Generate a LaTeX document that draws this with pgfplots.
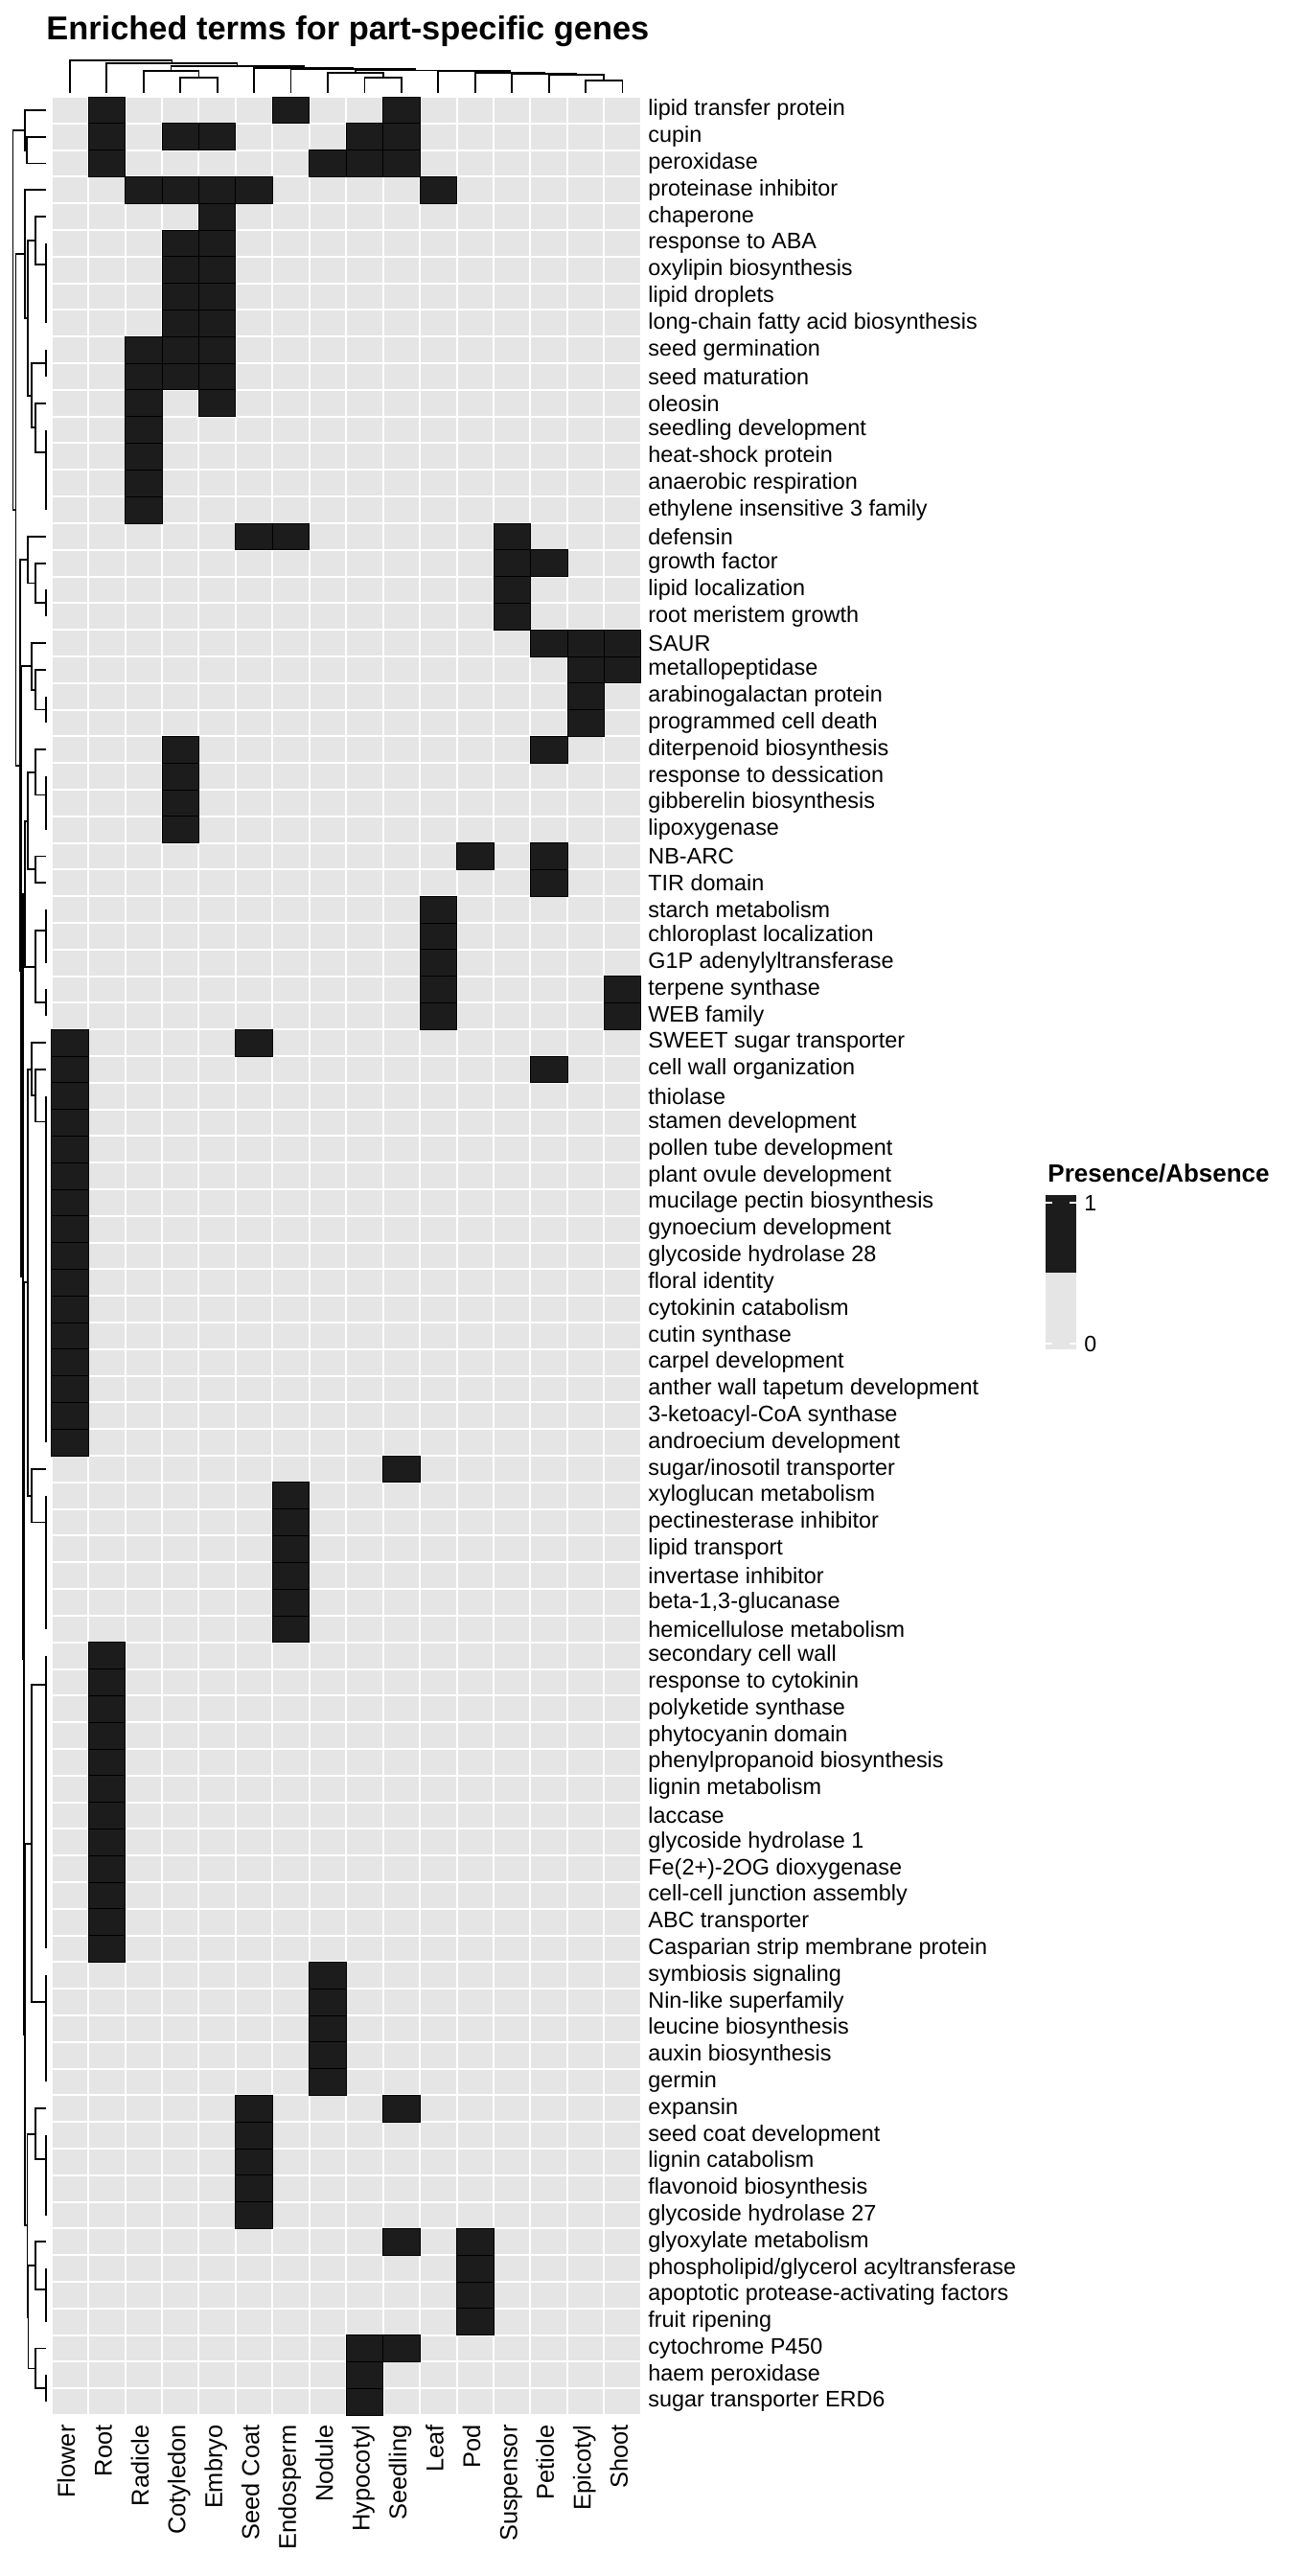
\documentclass[border=0pt]{standalone}
\usepackage{fontspec}
\setmainfont{Liberation Sans}
\usepackage{pgfplots}
\pgfplotsset{compat=1.18}
\definecolor{cellgray}{RGB}{229,229,229}
\definecolor{cellblack}{RGB}{28,28,28}
\pgfplotsset{
  dendro/.style={hide axis, scale only axis, clip=false},
  br/.style={black, line width=0.9pt, no marks},
}
\begin{document}
\begin{tikzpicture}
\useasboundingbox (0,0) rectangle (672pt,-1344pt);

% title
\node[anchor=base west, inner sep=0pt, font=\bfseries\fontsize{17.2}{20}\selectfont]
  at (24pt,-20.6pt) {Enriched terms for part-specific genes};

% heatmap
\begin{axis}[
  at={(26.8pt,-50.5pt)}, anchor=north west,
  scale only axis, width=307.6pt, height=1209.5pt,
  xmin=0.5, xmax=16.5, ymin=0.5, ymax=87.5, y dir=reverse,
  axis background/.style={fill=cellgray},
  axis line style={draw=none},
  tick style={draw=none}, major tick length=0pt, minor tick length=0pt,
  minor xtick={0.5,1.5,...,16.5}, minor ytick={0.5,1.5,...,87.5},
  grid=minor, minor grid style={white, line width=1pt},
  axis on top,
  xtick={1,...,16},
  xticklabels={Flower,Root,Radicle,Cotyledon,Embryo,Seed Coat,Endosperm,Nodule,Hypocotyl,Seedling,Leaf,Pod,Suspensor,Petiole,Epicotyl,Shoot},
  xticklabel style={rotate=90, anchor=mid east, inner sep=0pt, font=\fontsize{12.7}{13}\selectfont},
  xticklabel shift=5pt,
  ytick={1,...,87},
  yticklabels={lipid transfer protein,cupin,peroxidase,proteinase inhibitor,chaperone,response to ABA,oxylipin biosynthesis,lipid droplets,long-chain fatty acid biosynthesis,seed germination,seed maturation,oleosin,seedling development,heat-shock protein,anaerobic respiration,ethylene insensitive 3 family,defensin,growth factor,lipid localization,root meristem growth,SAUR,metallopeptidase,arabinogalactan protein,programmed cell death,diterpenoid biosynthesis,response to dessication,gibberelin biosynthesis,lipoxygenase,NB-ARC,TIR domain,starch metabolism,chloroplast localization,G1P adenylyltransferase,terpene synthase,WEB family,SWEET sugar transporter,cell wall organization,thiolase,stamen development,pollen tube development,plant ovule development,mucilage pectin biosynthesis,gynoecium development,glycoside hydrolase 28,floral identity,cytokinin catabolism,cutin synthase,carpel development,anther wall tapetum development,3-ketoacyl-CoA synthase,androecium development,sugar/inosotil transporter,xyloglucan metabolism,pectinesterase inhibitor,lipid transport,invertase inhibitor,{beta-1,3-glucanase},hemicellulose metabolism,secondary cell wall,response to cytokinin,polyketide synthase,phytocyanin domain,phenylpropanoid biosynthesis,lignin metabolism,laccase,glycoside hydrolase 1,Fe(2+)-2OG dioxygenase,cell-cell junction assembly,ABC transporter,Casparian strip membrane protein,symbiosis signaling,Nin-like superfamily,leucine biosynthesis,auxin biosynthesis,germin,expansin,seed coat development,lignin catabolism,flavonoid biosynthesis,glycoside hydrolase 27,glyoxylate metabolism,phospholipid/glycerol acyltransferase,apoptotic protease-activating factors,fruit ripening,cytochrome P450,haem peroxidase,sugar transporter ERD6},
  yticklabel pos=right,
  yticklabel style={anchor=west, inner sep=0pt, font=\fontsize{11.7}{12}\selectfont},
  yticklabel shift=3.6pt,
]
\addplot[only marks, mark=square*, mark size=6.95pt,
  mark options={xscale=1.383, draw=none, fill=cellblack}]
coordinates {
 (2,1) (7,1) (10,1)
 (2,2) (4,2) (5,2) (9,2) (10,2)
 (2,3) (8,3) (9,3) (10,3)
 (3,4) (4,4) (5,4) (6,4) (11,4)
 (5,5)
 (4,6) (5,6) (4,7) (5,7) (4,8) (5,8) (4,9) (5,9)
 (3,10) (4,10) (5,10) (3,11) (4,11) (5,11)
 (3,12) (5,12)
 (3,13) (3,14) (3,15) (3,16)
 (6,17) (7,17) (13,17)
 (13,18) (14,18)
 (13,19) (13,20)
 (14,21) (15,21) (16,21)
 (15,22) (16,22)
 (15,23) (15,24)
 (4,25) (14,25)
 (4,26) (4,27) (4,28)
 (12,29) (14,29)
 (14,30)
 (11,31) (11,32) (11,33)
 (11,34) (16,34) (11,35) (16,35)
 (1,36) (6,36)
 (1,37) (14,37)
 (1,38) (1,39) (1,40) (1,41) (1,42) (1,43) (1,44) (1,45) (1,46) (1,47) (1,48) (1,49) (1,50) (1,51)
 (10,52)
 (7,53) (7,54) (7,55) (7,56) (7,57) (7,58)
 (2,59) (2,60) (2,61) (2,62) (2,63) (2,64) (2,65) (2,66) (2,67) (2,68) (2,69) (2,70)
 (8,71) (8,72) (8,73) (8,74) (8,75)
 (6,76) (10,76)
 (6,77) (6,78) (6,79) (6,80)
 (10,81) (12,81)
 (12,82) (12,83) (12,84)
 (9,85) (10,85)
 (9,86) (9,87)
};
\end{axis}

% column dendrogram
\begin{axis}[dendro,
  at={(26.8pt,-30pt)}, anchor=north west,
  width=307.6pt, height=20.5pt,
  xmin=0.5, xmax=16.5, ymin=60, ymax=101, y dir=reverse]
\addplot[br] coordinates {(4,97)(4,81.3)(5,81.3)(5,97)};
\addplot[br] coordinates {(3,97)(3,73.7)(4.5,73.7)(4.5,81.3)};
\addplot[br] coordinates {(9,97)(9,81.3)(10,81.3)(10,97)};
\addplot[br] coordinates {(8,97)(8,76.3)(9.5,76.3)(9.5,81.3)};
\addplot[br] coordinates {(15,97)(15,83.7)(16,83.7)(16,97)};
\addplot[br] coordinates {(14,97)(14,78)(15.5,78)(15.5,83.7)};
\addplot[br] coordinates {(13,97)(13,77)(14.75,77)(14.75,78)};
\addplot[br] coordinates {(12,97)(12,75.7)(13.875,75.7)(13.875,77)};
\addplot[br] coordinates {(11,97)(11,74.3)(12.9375,74.3)(12.9375,75.7)};
\addplot[br] coordinates {(8.75,76.3)(8.75,73.5)(11.969,73.5)(11.969,74.3)};
\addplot[br] coordinates {(7,97)(7,72)(10.359,72)(10.359,73.5)};
\addplot[br] coordinates {(6,97)(6,70.7)(8.680,70.7)(8.680,72)};
\addplot[br] coordinates {(3.75,73.7)(3.75,68.7)(7.340,68.7)(7.340,70.7)};
\addplot[br] coordinates {(2,97)(2,66)(5.545,66)(5.545,68.7)};
\addplot[br] coordinates {(1,97)(1,63)(3.772,63)(3.772,66)};
\end{axis}

% row dendrogram (x in px from the left edge, leaves at 48.2)
\begin{axis}[dendro,
  at={(0pt,-50.5pt)}, anchor=north west,
  width=26.8pt, height=1209.5pt,
  xmin=0, xmax=53.6, ymin=0.5, ymax=87.5, y dir=reverse]
% identical leaves
\addplot[br] coordinates {(48.2,6)(48.2,9)};
\addplot[br] coordinates {(48.2,10)(48.2,11)};
\addplot[br] coordinates {(48.2,13)(48.2,16)};
\addplot[br] coordinates {(48.2,19)(48.2,20)};
\addplot[br] coordinates {(48.2,23)(48.2,24)};
\addplot[br] coordinates {(48.2,26)(48.2,28)};
\addplot[br] coordinates {(48.2,31)(48.2,33)};
\addplot[br] coordinates {(48.2,34)(48.2,35)};
\addplot[br] coordinates {(48.2,38)(48.2,51)};
\addplot[br] coordinates {(48.2,53)(48.2,58)};
\addplot[br] coordinates {(48.2,59)(48.2,70)};
\addplot[br] coordinates {(48.2,71)(48.2,75)};
\addplot[br] coordinates {(48.2,77)(48.2,80)};
\addplot[br] coordinates {(48.2,82)(48.2,84)};
\addplot[br] coordinates {(48.2,86)(48.2,87)};
% merges
\addplot[br] coordinates {(48.2,2)(28.1,2)(28.1,3)(48.2,3)};
\addplot[br] coordinates {(48.2,1)(25.9,1)(25.9,2.5)(28.1,2.5)};
\addplot[br] coordinates {(48.2,5)(37,5)(37,6.8)(48.2,6.8)};
\addplot[br] coordinates {(48.2,12)(37,12)(37,13.83)(48.2,13.83)};
\addplot[br] coordinates {(48.2,10.5)(32.6,10.5)(32.6,12.915)(37,12.915)};
\addplot[br] coordinates {(37,5.9)(29,5.9)(29,11.71)(32.6,11.71)};
\addplot[br] coordinates {(48.2,4)(25.9,4)(25.9,8.8)(29,8.8)};
\addplot[br] coordinates {(48.2,18)(37,18)(37,19.5)(48.2,19.5)};
\addplot[br] coordinates {(48.2,17)(29,17)(29,18.75)(37,18.75)};
\addplot[br] coordinates {(48.2,22)(37,22)(37,23.5)(48.2,23.5)};
\addplot[br] coordinates {(48.2,21)(32.6,21)(32.6,22.75)(37,22.75)};
\addplot[br] coordinates {(48.2,25)(37,25)(37,26.7)(48.2,26.7)};
\addplot[br] coordinates {(48.2,29)(37,29)(37,30)(48.2,30)};
\addplot[br] coordinates {(37,25.85)(29,25.85)(29,29.5)(37,29.5)};
\addplot[br] coordinates {(48.2,31.8)(37,31.8)(37,34.5)(48.2,34.5)};
\addplot[br] coordinates {(29,27.675)(25.9,27.675)(25.9,33.15)(37,33.15)};
\addplot[br] coordinates {(48.2,37)(37,37)(37,38.96)(48.2,38.96)};
\addplot[br] coordinates {(48.2,36)(32.6,36)(32.6,37.98)(37,37.98)};
\addplot[br] coordinates {(48.2,52)(32.6,52)(32.6,54)(48.2,54)};
\addplot[br] coordinates {(32.6,36.99)(29,36.99)(29,53)(32.6,53)};
\addplot[br] coordinates {(48.2,60.1)(32.6,60.1)(32.6,72)(48.2,72)};
\addplot[br] coordinates {(48.2,76)(37,76)(37,77.9)(48.2,77.9)};
\addplot[br] coordinates {(48.2,81)(37,81)(37,82.8)(48.2,82.8)};
\addplot[br] coordinates {(48.2,85)(37,85)(37,86.5)(48.2,86.5)};
\addplot[br] coordinates {(37,81.9)(29.5,81.9)(29.5,85.75)(37,85.75)};
\addplot[br] coordinates {(37,76.95)(28.5,76.95)(28.5,83.825)(29.5,83.825)};
\addplot[br] coordinates {(32.6,66.05)(25.9,66.05)(25.9,80.39)(28.5,80.39)};
\addplot[br] coordinates {(29,44.995)(25,44.995)(25,73.22)(25.9,73.22)};
\addplot[br] coordinates {(25.9,30.41)(23.9,30.41)(23.9,59.11)(25,59.11)};
\addplot[br] coordinates {(32.6,21.875)(22.3,21.875)(22.3,44.76)(23.9,44.76)};
\addplot[br] coordinates {(29,17.875)(20.8,17.875)(20.8,33.32)(22.3,33.32)};
\addplot[br] coordinates {(25.9,6.4)(16.5,6.4)(16.5,25.6)(20.8,25.6)};
\addplot[br] coordinates {(25.9,1.75)(13.4,1.75)(13.4,16)(16.5,16)};
\end{axis}

% legend
\node[anchor=base west, inner sep=0pt, font=\bfseries\fontsize{13}{15}\selectfont]
  at (546.5pt,-616.5pt) {Presence/Absence};
\begin{axis}[
  at={(545.5pt,-623.5pt)}, anchor=north west,
  scale only axis, width=16pt, height=80.5pt,
  xmin=0, xmax=1, ymin=0, ymax=1, clip=false,
  axis line style={draw=none}, tick style={draw=none},
  major tick length=0pt,
  xtick=\empty, ytick={0.037,0.95}, yticklabels={0,1},
  yticklabel pos=right,
  yticklabel style={anchor=west, inner sep=0pt, font=\fontsize{11.6}{12}\selectfont},
  yticklabel shift=4pt,
]
\addplot[fill=cellblack, draw=none] coordinates {(0,1)(1,1)} \closedcycle;
\addplot[fill=cellgray, draw=none] coordinates {(0,0.5)(1,0.5)} \closedcycle;
\addplot[white, line width=1pt, no marks] coordinates {(0,0.95)(0.22,0.95)};
\addplot[white, line width=1pt, no marks] coordinates {(0.78,0.95)(1,0.95)};
\addplot[white, line width=1pt, no marks] coordinates {(0,0.037)(0.22,0.037)};
\addplot[white, line width=1pt, no marks] coordinates {(0.78,0.037)(1,0.037)};
\end{axis}
\end{tikzpicture}
\end{document}
